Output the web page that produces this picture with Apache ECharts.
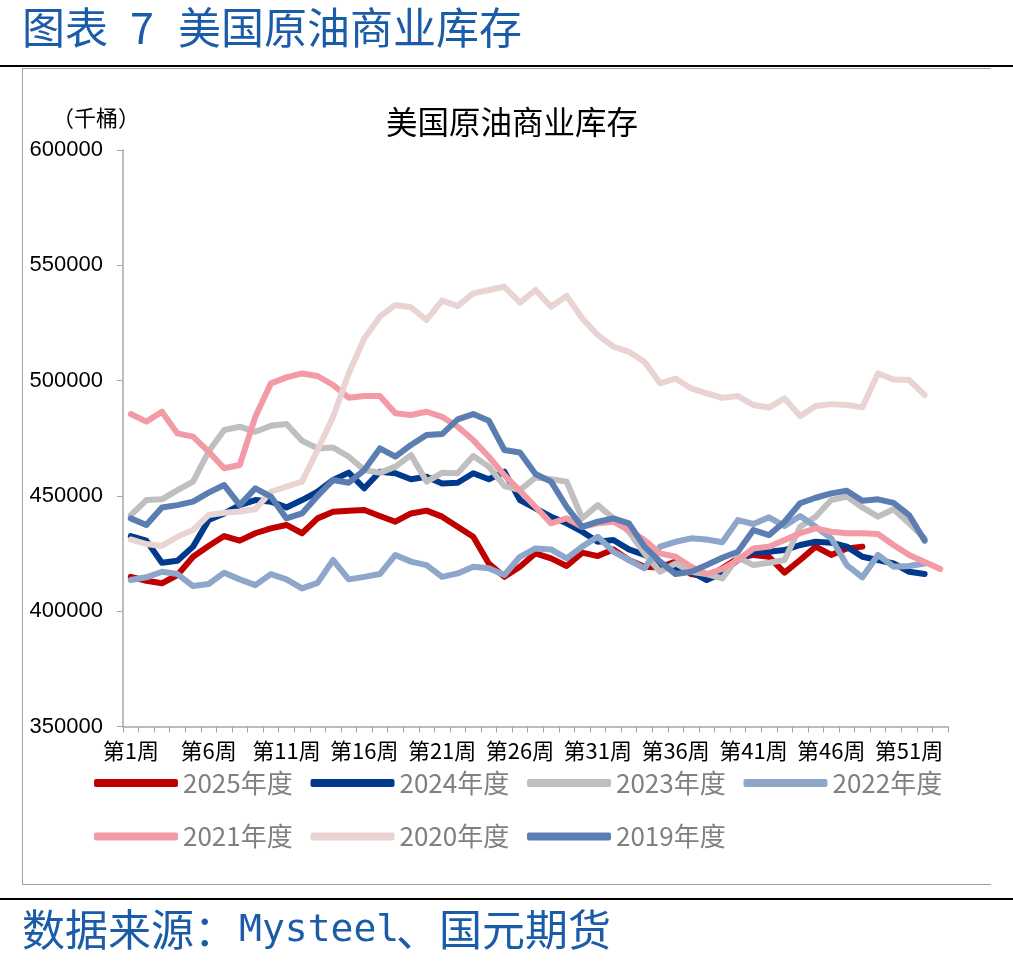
<!DOCTYPE html>
<html>
<head>
<meta charset="utf-8">
<script src="https://cdn.jsdelivr.net/npm/echarts@6/dist/echarts.min.js"></script>
<style>
html,body{margin:0;padding:0;background:#fff;}
#chart{width:1013px;height:965px;}
</style>
</head>
<body>
<div id="chart"></div>
<script>
// ---- data (千桶) ----
var weeks = [];
for (var i = 1; i <= 53; i++) weeks.push('第' + i + '周');

var seriesNames = ['2025年度', '2024年度', '2023年度', '2022年度', '2021年度', '2020年度', '2019年度'];

var y2025 = [414900,413200,412100,415700,423600,428300,432600,430600,433800,435900,437400,433800,440250,
  443100,443600,443900,441300,438800,442400,443600,441000,436600,432300,420700,414900,419300,
  425100,422900,419600,425400,423900,426800,422200,419300,419000,421500,416100,414900,418600,
  422900,424400,423600,416700,422200,428000,424400,427200,428000];

var y2024 = [432600,430600,421000,421900,428000,439500,442400,446000,448200,447500,445000,448200,451800,
  456900,460100,453300,460500,459800,457200,458300,455400,455700,459800,457200,460500,448200,
  444600,441000,438100,434500,430100,430900,426800,424400,420700,418600,417100,413500,416700,
  422200,425400,425800,426500,428700,430100,429700,428000,423600,422200,420700,417100,416100];

var y2023 = [441700,448200,448500,452500,456200,469200,478600,480000,477800,480400,481200,473900,470600,
  471000,467000,461200,460000,462700,467700,456200,460000,459800,467300,462700,454300,452500,
  458000,457200,456200,440300,446000,440300,434500,425100,417100,420700,417100,416100,414200,
  423300,420000,421000,422200,436600,441000,448200,449700,445000,441000,444200,438100,431600];

var y2022 = [413500,414700,417100,416100,410900,411800,416700,413800,411300,416100,413800,409900,412300,
  422200,413800,414900,416100,424400,421500,420000,414900,416400,419300,418600,415700,423600,
  427200,426800,422900,428000,432300,425800,422200,418600,428000,430100,431600,431100,429900,
  439500,437800,440700,436900,441300,436600,431600,420000,414700,424400,419300,419600,420700];

var y2021 = [485500,482200,486500,477100,475700,469200,462000,463400,484300,498800,501400,503100,502000,
  498100,492600,493300,493300,485800,485100,486500,484300,480000,474200,467000,459000,452200,
  445300,438100,440300,436600,438100,438800,435200,430900,425100,423600,419300,416100,418300,
  422200,427200,428000,430900,433800,435900,434500,433800,433800,433500,428700,424400,421300,418300];

var y2020 = [431100,429100,428300,432300,435200,441700,442700,443200,444200,451800,454000,456200,469900,
  484300,503100,518300,527700,532800,531800,526300,534700,532300,537800,539300,540700,533800,
  539300,532000,536700,527000,519800,514700,512500,508200,498800,500900,496600,494500,492500,
  493300,489400,488300,492300,484600,489000,489800,489400,488400,503100,500500,500250,493700];

var y2019 = [440250,437400,445000,446000,447500,451400,454700,446000,453300,449700,440250,442400,450000,
  456900,455700,461200,470600,467000,472100,476400,476800,483200,485500,482600,469900,468800,
  459500,456200,445300,436600,438800,440250,438100,428000,421500,416100,417100,420000,423200,
  425800,435200,433000,438800,446800,449200,451100,452200,447900,448500,447000,441700,430600];

var yTicks = { min: 350000, max: 600000, step: 50000 };

var colors = ['#C00000', '#003A8C', '#BFBFBF', '#8EA6CA', '#F29BA6', '#E9D3D3', '#5B7DB2'];
var dataList = [y2025, y2024, y2023, y2022, y2021, y2020, y2019];

var chart = echarts.init(document.getElementById('chart'), null, { renderer: 'canvas' });

var series = seriesNames.map(function (n, k) {
  return {
    name: n,
    type: 'line',
    data: dataList[k],
    symbol: 'none',
    smooth: false,
    color: colors[k],
    lineStyle: { width: 6, color: colors[k], join: 'round', cap: 'round' },
    emphasis: { disabled: true },
    animation: false
  };
});

var cjk = '"Noto Sans CJK SC", "Noto Sans", sans-serif';

chart.setOption({
  animation: false,
  backgroundColor: '#fff',
  grid: { left: 123, right: 65, top: 150, bottom: 238.5, containLabel: false },
  xAxis: {
    type: 'category',
    data: weeks,
    boundaryGap: true,
    axisLine: { show: true, lineStyle: { color: '#A6A6A6', width: 1.5 } },
    axisTick: { show: true, interval: 0, length: 6, lineStyle: { color: '#A6A6A6', width: 1 } },
    axisLabel: { interval: 4, color: '#000', fontSize: 22, fontFamily: cjk, margin: 13 },
    splitLine: { show: false }
  },
  yAxis: {
    type: 'value',
    min: yTicks.min,
    max: yTicks.max,
    interval: yTicks.step,
    axisLine: { show: true, lineStyle: { color: '#A6A6A6', width: 1.5 } },
    axisTick: { show: true, length: 6, lineStyle: { color: '#A6A6A6' } },
    axisLabel: {
      color: '#000', fontSize: 22, fontFamily: '"Liberation Sans", Arial, sans-serif', margin: 20,
      formatter: function (v) { return String(v); }
    },
    splitLine: { show: false }
  },
  legend: {
    left: 89,
    top: 760,
    width: 860,
    icon: 'roundRect',
    itemWidth: 84,
    itemHeight: 8,
    itemGap: 17.5,
    data: seriesNames,
    textStyle: { color: '#808080', fontSize: 26, fontFamily: cjk, width: 110, lineHeight: 36 }
  },
  graphic: [
    { type: 'text', left: 22, top: 6, style: { text: '图表', fontSize: 43, fontFamily: cjk, fill: '#1B5CA8' } },
    { type: 'text', left: 130, top: 6, style: { text: '7', fontSize: 43, fontFamily: cjk, fill: '#1B5CA8' } },
    { type: 'text', left: 178, top: 6, style: { text: '美国原油商业库存', fontSize: 43, fontFamily: cjk, fill: '#1B5CA8' } },
    { type: 'rect', shape: { x: 0, y: 65, width: 1013, height: 2 }, style: { fill: '#000' } },
    { type: 'line', shape: { x1: 22, y1: 68.5, x2: 991, y2: 68.5 }, style: { stroke: '#A0A0A0', lineWidth: 1 } },
    { type: 'line', shape: { x1: 22.5, y1: 68, x2: 22.5, y2: 884 }, style: { stroke: '#A0A0A0', lineWidth: 1 } },
    { type: 'line', shape: { x1: 22, y1: 884.5, x2: 991, y2: 884.5 }, style: { stroke: '#A0A0A0', lineWidth: 1 } },
    { type: 'rect', shape: { x: 0, y: 898, width: 1013, height: 2 }, style: { fill: '#000' } },
    { type: 'text', left: 52, top: 107, style: { text: '（千桶）', fontSize: 22, fontFamily: cjk, fill: '#000' } },
    { type: 'text', left: 386, top: 106, style: { text: '美国原油商业库存', fontSize: 31.5, fontFamily: cjk, fill: '#000' } },
    { type: 'text', left: 22, top: 908, style: { text: '数据来源：', fontSize: 43, fontFamily: cjk, fill: '#1B5CA8' } },
    { type: 'text', left: 239, top: 912, style: { text: 'Mysteel', fontSize: 38, fontFamily: '"DejaVu Sans Mono", "Liberation Mono", monospace', fill: '#1B5CA8' } },
    { type: 'text', left: 396, top: 908, style: { text: '、国元期货', fontSize: 43, fontFamily: cjk, fill: '#1B5CA8' } }
  ],
  series: series
});
</script>
</body>
</html>
